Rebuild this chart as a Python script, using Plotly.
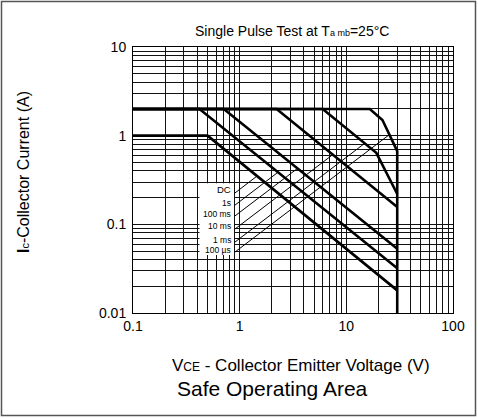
import math
import plotly.graph_objects as go

# ---- data (V in volts, I in amps) ----
V_100us = [0.1, 16.6, 21.8, 30, 30]
I_100us = [2, 2, 1.5, 0.67, 0.01]
V_1ms = [0.1, 6.0, 19.1, 30]
I_1ms = [2, 2, 0.64, 0.22]
V_10ms = [0.1, 2.22, 30]
I_10ms = [2, 2, 0.157]
V_100ms = [0.1, 0.71, 30]
I_100ms = [2, 2, 0.053]
V_1s = [0.1, 0.42, 30]
I_1s = [2, 2, 0.032]
V_DC = [0.1, 0.5, 30]
I_DC = [1, 1, 0.018]

labels = ["DC", "1s", "100 ms", "10 ms", "1 ms", "100 µs"]
label_sizes = [9.5, 8.5, 8.5, 8.5, 8.5, 8.5]
label_V = 0.865
label_I = [0.245, 0.173, 0.130, 0.0946, 0.0668, 0.0511]
leader_start_V = 0.9
leader_start_I = [0.225, 0.164, 0.124, 0.0882, 0.0629, 0.0485]
leader_end_V = [1.467, 2.30, 3.52, 7.52, 14.9, 25.4]
leader_end_I = [0.353, 0.389, 0.431, 0.615, 0.821, 1.03]

# white label box (data coords)
box_V = [0.42, 0.885, 0.885, 0.42, 0.42]
box_I = [0.045, 0.045, 0.29, 0.29, 0.045]

x_decades = [-1, 0, 1]
y_decades = [-2, -1, 0]
x_ticklabels = {0.1: "0.1", 1: "1", 10: "10", 100: "100"}
y_ticklabels = {0.01: "0.01", 0.1: "0.1", 1: "1", 10: "10"}

FONT = "Liberation Sans, Arial, Helvetica, sans-serif"

def grid_vals(decades, top):
    vals = []
    for e in decades:
        for m in range(1, 10):
            vals.append(round(m * 10 ** e, 6))
    vals.append(top)
    return vals

xvals = grid_vals(x_decades, 100)
yvals = grid_vals(y_decades, 10)
xtext = [x_ticklabels.get(v, "") for v in xvals]
ytext = [y_ticklabels.get(v, "") for v in yvals]

fig = go.Figure()

# white box behind labels
fig.add_trace(go.Scatter(x=box_V, y=box_I, mode="lines", fill="toself",
                         fillcolor="white", line=dict(width=0, color="white"),
                         hoverinfo="skip", showlegend=False))

# leader lines
for i in range(len(labels)):
    fig.add_trace(go.Scatter(x=[leader_start_V, leader_end_V[i]],
                             y=[leader_start_I[i], leader_end_I[i]],
                             mode="lines", line=dict(color="black", width=1),
                             hoverinfo="skip", showlegend=False))

# SOA curves
for V, I in [(V_DC, I_DC), (V_1s, I_1s), (V_100ms, I_100ms),
             (V_10ms, I_10ms), (V_1ms, I_1ms), (V_100us, I_100us)]:
    fig.add_trace(go.Scatter(x=V, y=I, mode="lines",
                             line=dict(color="black", width=2.6),
                             hoverinfo="skip", showlegend=False))

annotations = []
for i, lab in enumerate(labels):
    annotations.append(dict(x=math.log10(label_V), y=math.log10(label_I[i]),
                            xref="x", yref="y", text=lab, showarrow=False,
                            xanchor="right", yanchor="middle",
                            font=dict(family=FONT, size=label_sizes[i], color="black")))

def px2paper(px, py):
    return (px - 133) / 320.0, (313 - py) / 266.0

tx, ty = px2paper(291.5, 31.5)
annotations.append(dict(x=tx, y=ty, xref="paper", yref="paper", showarrow=False,
                        text="Single Pulse Test at T<span style='font-size:9px'>a mb</span>=25°C",
                        xanchor="center", yanchor="middle",
                        font=dict(family=FONT, size=14, color="black")))
tx, ty = px2paper(301, 365)
annotations.append(dict(x=tx, y=ty, xref="paper", yref="paper", showarrow=False,
                        text="V<span style='font-size:12px'>CE</span> - Collector Emitter Voltage (V)",
                        xanchor="center", yanchor="middle",
                        font=dict(family=FONT, size=17, color="black")))
tx, ty = px2paper(272.5, 388)
annotations.append(dict(x=tx, y=ty, xref="paper", yref="paper", showarrow=False,
                        text="Safe Operating Area",
                        xanchor="center", yanchor="middle",
                        font=dict(family=FONT, size=21, color="black")))
tx, ty = px2paper(23, 172)
annotations.append(dict(x=tx, y=ty, xref="paper", yref="paper", showarrow=False,
                        text="<b>I</b><span style='font-size:11px'>c</span>-Collector Current (A)",
                        textangle=-90, xanchor="center", yanchor="middle",
                        font=dict(family=FONT, size=16, color="black")))

bx0, by1 = px2paper(1.5, 1.5)
bx1, by0 = px2paper(475.5, 415.5)

fig.update_layout(
    width=478, height=418, autosize=False,
    margin=dict(l=133, r=25, t=47, b=105, pad=0),
    paper_bgcolor="white", plot_bgcolor="white",
    showlegend=False,
    annotations=annotations,
    shapes=[dict(type="rect", xref="paper", yref="paper",
                 x0=bx0, x1=bx1, y0=by0, y1=by1,
                 line=dict(color="#555555", width=1.5))],
    xaxis=dict(type="log", range=[-1, 2], tickmode="array", tickvals=xvals,
               ticktext=xtext, showgrid=True, gridcolor="#111111", gridwidth=1,
               showline=True, linecolor="black", linewidth=1, mirror=True,
               ticks="", zeroline=False,
               tickfont=dict(family=FONT, size=14, color="black")),
    yaxis=dict(type="log", range=[-2, 1], tickmode="array", tickvals=yvals,
               ticktext=ytext, showgrid=True, gridcolor="#111111", gridwidth=1,
               showline=True, linecolor="black", linewidth=1, mirror=True,
               ticks="", zeroline=False, ticklabelstandoff=3,
               tickfont=dict(family=FONT, size=14, color="black")),
)

fig.write_html("out.html")
